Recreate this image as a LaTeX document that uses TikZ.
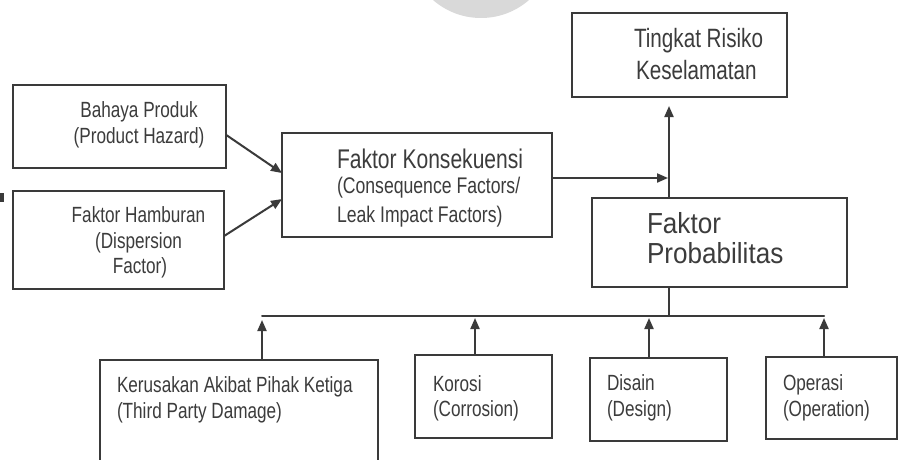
\documentclass[tikz,border=0pt]{standalone}
\usepackage{fontspec}
\usetikzlibrary{arrows.meta,calc}
\newfontfamily\cond{Liberation Sans}[FakeStretch=0.78]
\newfontfamily\condw{Liberation Sans}[FakeStretch=0.9]
\definecolor{linec}{HTML}{3A3A3A}
\definecolor{txtc}{HTML}{3C3C3C}
\definecolor{discc}{HTML}{D9D9D9}
\tikzset{
  box/.style={draw=linec, line width=2pt, anchor=north west, inner sep=0pt, outer sep=0pt},
  lbl/.style={text=txtc, inner sep=0pt, outer sep=0pt, font=\cond\fontsize{22}{26}\selectfont},
  lblL/.style={lbl, anchor=base west},
  lblC/.style={lbl, anchor=base},
  big/.style={font=\cond\fontsize{27}{31}\selectfont},
  wide/.style={font=\condw\fontsize{29}{33}\selectfont},
  wire/.style={draw=linec, line width=2pt},
  arr/.style={wire, -{Triangle[length=11pt,width=9pt]}}
}
\begin{document}
\begin{tikzpicture}[x=1pt, y=-1pt]
\useasboundingbox (0,0) rectangle (899,460);
\clip (0,0) rectangle (899,460);
\fill[white] (0,0) rectangle (899,460);

% grey disc at the top edge and small mark on the left edge
\fill[discc] (481,-55) circle (73);
\fill[linec] (0,193) rectangle (4,202);

% boxes
\node[box, minimum width=213, minimum height=83] (bahaya) at (13,85) {};
\node[box, minimum width=211, minimum height=98] (hamburan) at (13,191) {};
\node[box, minimum width=270, minimum height=104] (kons) at (282,133) {};
\node[box, minimum width=215, minimum height=84] (tingkat) at (572,13) {};
\node[box, minimum width=255, minimum height=89] (prob) at (592,198) {};
\node[box, minimum width=278, minimum height=130] (kerus) at (100,360) {};
\node[box, minimum width=137, minimum height=83] (korosi) at (415,355) {};
\node[box, minimum width=137, minimum height=83] (disain) at (590,358) {};
\node[box, minimum width=131, minimum height=82] (operasi) at (766,357) {};

% labels
\node[lblC] (bahaya1) at (139,117) {Bahaya Produk};
\node[lblC] (bahaya2) at (139,143) {(Product Hazard)};
\node[lblC] (hamburan1) at (138.5,222) {Faktor Hamburan};
\node[lblC] (hamburan2) at (138.5,248) {(Dispersion};
\node[lblC] (hamburan3) at (140,273) {Factor)};
\node[lblL, big] (kons1) at (337,168) {Faktor Konsekuensi};
\node[lblL, font=\cond\fontsize{22.6}{26}\selectfont] (kons2) at (337,193) {(Consequence Factors/};
\node[lblL, font=\cond\fontsize{22.6}{26}\selectfont] (kons3) at (337,222) {Leak Impact Factors)};
\node[lblL, font=\cond\fontsize{26.5}{30}\selectfont] (tingkat1) at (634,48) {Tingkat Risiko};
\node[lblL, font=\cond\fontsize{26.5}{30}\selectfont] (tingkat2) at (636,80) {Keselamatan};
\node[lblL, wide] (prob1) at (647,233) {Faktor};
\node[lblL, wide] (prob2) at (647,263) {Probabilitas};
\node[lblL] (kerus1) at (117,392) {Kerusakan Akibat Pihak Ketiga};
\node[lblL] (kerus2) at (117,418) {(Third Party Damage)};
\node[lblL] (korosi1) at (433,391) {Korosi};
\node[lblL] (korosi2) at (433,416) {(Corrosion)};
\node[lblL] (disain1) at (607,390) {Disain};
\node[lblL] (disain2) at (607,416) {(Design)};
\node[lblL] (operasi1) at (783,390) {Operasi};
\node[lblL] (operasi2) at (783,416) {(Operation)};

% junction points
\coordinate (jn) at (669,178);
\coordinate (bus) at (669,316);
\coordinate (b1) at (262,316);
\coordinate (b2) at (475,316);
\coordinate (b3) at (649,316);
\coordinate (b4) at (824,316);

% consequence side
\draw[arr] ($(bahaya.north east)!0.6!(bahaya.south east)$) -- ($(kons.north west)!0.385!(kons.south west)$);
\draw[arr] ($(hamburan.north east)!0.46!(hamburan.south east)$) -- ($(kons.north west)!0.635!(kons.south west)$);
\draw[arr] (kons.east |- jn) -- ([xshift=-1pt]jn);
\draw[arr] (prob.north -| jn) -- ([yshift=-9pt]tingkat.south -| jn);

% probability side
\draw[wire] (prob.south -| bus) -- (bus);
\draw[wire, line cap=round] (b1) -- (b4);
\draw[arr] (kerus.north -| b1) -- ([yshift=-4pt]b1);
\draw[arr] (korosi.north -| b2) -- ([yshift=-2pt]b2);
\draw[arr] (disain.north -| b3) -- ([yshift=-2pt]b3);
\draw[arr] (operasi.north -| b4) -- ([yshift=-2pt]b4);
\end{tikzpicture}
\end{document}
